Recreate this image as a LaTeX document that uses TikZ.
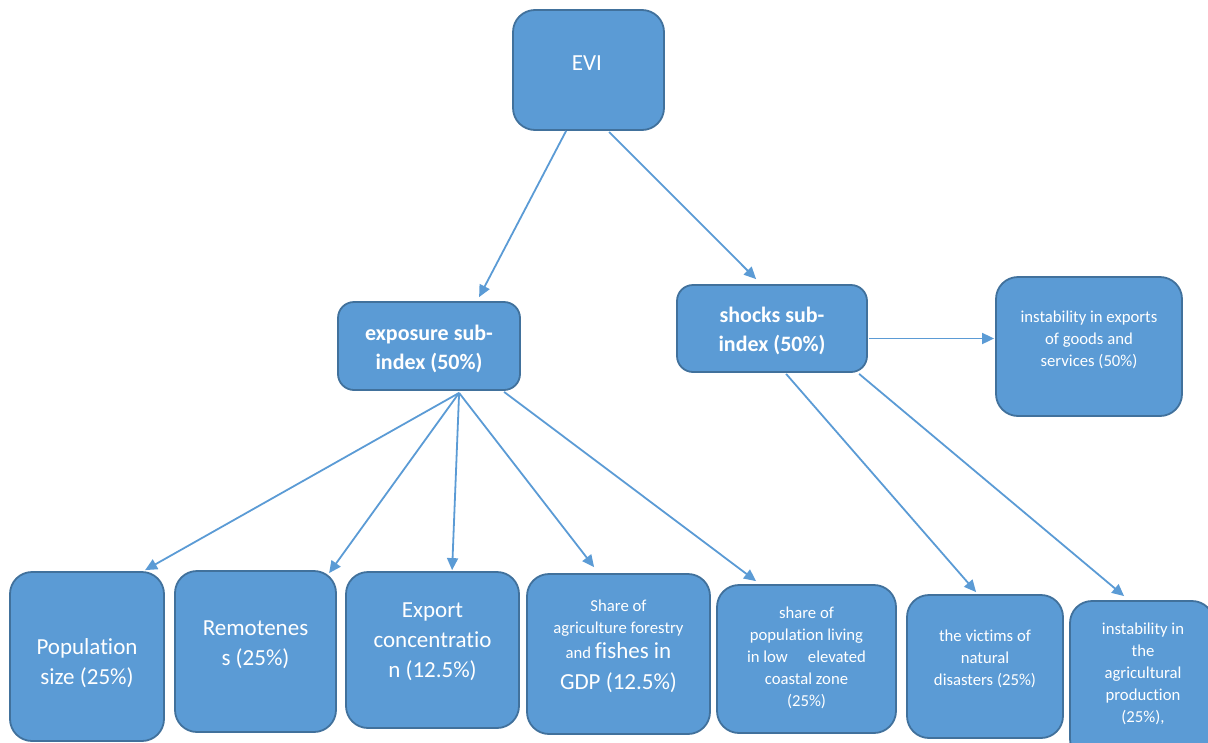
\documentclass[tikz,border=0pt]{standalone}
\usepackage{fontspec}
\setmainfont[Ligatures=NoCommon]{Carlito}
\usetikzlibrary{calc,arrows.meta}
\definecolor{boxfill}{HTML}{5B9BD5}
\definecolor{boxborder}{HTML}{41719C}
\definecolor{arrowc}{HTML}{5B9BD5}
\tikzset{
  box/.style={draw=boxborder, fill=boxfill, line width=1.8pt, rounded corners=22pt, inner sep=0pt},
  subbox/.style={box, rounded corners=16pt},
  lbl/.style={text=white, align=center, inner sep=0pt},
  bigtxt/.style={lbl, font=\fontsize{23}{30}\selectfont},
  smalltxt/.style={lbl, font=\fontsize{16.7}{22}\selectfont},
  boldtxt/.style={lbl, font=\bfseries\fontsize{22}{29}\selectfont},
  arr/.style={draw=arrowc, line width=1.8pt, -{Triangle[length=12pt,width=11pt]}},
}
\begin{document}
\begin{tikzpicture}[x=1pt,y=-1pt]
\useasboundingbox (0,0) rectangle (1208,742);
% boxes
\node[box, minimum width=151pt, minimum height=120pt] (evi) at (588.5,70) {};
\node[subbox, minimum width=182pt, minimum height=88pt] (exp) at (429,346) {};
\node[subbox, minimum width=190pt, minimum height=87pt] (shk) at (772,328.5) {};
\node[box, minimum width=186pt, minimum height=139pt] (exg) at (1089,346.5) {};
\node[box, minimum width=154pt, minimum height=169pt] (pop) at (87,656.5) {};
\node[box, minimum width=161pt, minimum height=161pt] (rem) at (255.5,651.5) {};
\node[box, minimum width=173pt, minimum height=156pt] (exc) at (432.5,650) {};
\node[box, minimum width=183pt, minimum height=160pt] (agr) at (618.5,654) {};
\node[box, minimum width=179pt, minimum height=148pt] (pls) at (806.5,659) {};
\node[box, minimum width=156pt, minimum height=143pt] (vic) at (985,666.5) {};
\node[box, minimum width=144pt, minimum height=160pt] (ins) at (1142,681) {};
% texts
\node[bigtxt] (evi-t) at (587,63) {EVI};
\node[boldtxt] (exp-t) at (429,348.5) {exposure sub-\\index (50\%)};
\node[boldtxt] (shk-t) at (772,331) {shocks sub-\\index (50\%)};
\node[smalltxt] (exg-t) at (1089,339.5) {instability in exports\\of goods and\\services (50\%)};
\node[bigtxt] (pop-t) at (87,663.5) {Population\\size (25\%)};
\node[bigtxt] (rem-t) at (255.5,645) {Remotenes\\s (25\%)};
\node[bigtxt] (exc-t) at (432.5,642) {Export\\concentratio\\n (12.5\%)};
\node[smalltxt] (agr-t) at (618.5,646) {Share of\\agriculture forestry\\[3pt]and {\fontsize{23}{30}\selectfont fishes in}\\[9pt]{\fontsize{23}{30}\selectfont GDP (12.5\%)}};
\node[smalltxt] (pls-t) at (806.5,658) {share of\\population living\\in low\hspace{1.2em}elevated\\coastal zone\\(25\%)};
\node[smalltxt] (vic-t) at (985,659) {the victims of\\natural\\disasters (25\%)};
\node[smalltxt] (ins-t) at (1143,674) {instability in\\the\\agricultural\\production\\(25\%),};
% connectors
\draw[arr] ($(evi.south west)+(54,0)$) -- ($(exp.north west)+(142,-4)$);
\draw[arr] ($(evi.south west)+(97,1)$) -- ($(shk.north west)+(80,-5)$);
\draw[arr] ($(shk.east)+(1,10)$) -- ($(exg.west)+(-1,-8)$);
\draw[arr] ($(shk.south west)+(110,1)$) -- ($(vic.north west)+(70,-2)$);
\draw[arr] ($(shk.south west)+(183,1)$) -- ($(ins.north west)+(55,-4)$);
\draw[arr] ($(exp.south west)+(122,2)$) -- ($(pop.north west)+(136,-1)$);
\draw[arr] ($(exp.south west)+(122,2)$) -- ($(rem.north west)+(155,3)$);
\draw[arr] ($(exp.south west)+(122,2)$) -- ($(exc.north west)+(107,-1)$);
\draw[arr] ($(exp.south west)+(122,2)$) -- ($(agr.north west)+(68,-6)$);
\draw[arr] ($(exp.south west)+(167,1)$) -- ($(pls.north west)+(40,-3)$);
\end{tikzpicture}
\end{document}
